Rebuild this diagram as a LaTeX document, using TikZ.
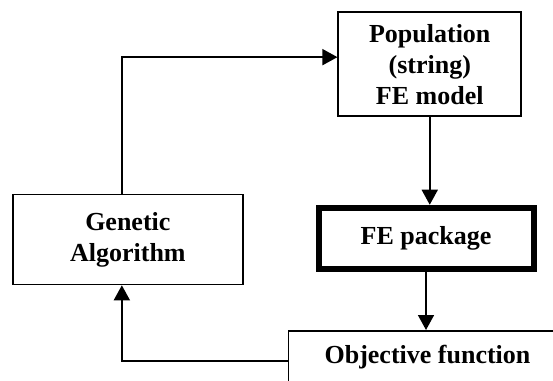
\documentclass[tikz,border=0pt]{standalone}
\usepackage{fontspec}
\setmainfont{Liberation Serif}
\usetikzlibrary{arrows.meta}
\tikzset{
    block/.style={
        draw,line width=1.6pt,
        align=center,
        font=\bfseries\fontsize{26}{31}\selectfont
    },
    >={Triangle[width=16pt,length=15pt]},
    arrow/.style={line width=1.6pt,->},
}

\begin{document}
\begin{tikzpicture}[x=1pt,y=1pt]
		\useasboundingbox (0,0) rectangle (553,380);
		\clip (0,0) rectangle (553,380);
		\node[block,minimum width=183pt,minimum height=104pt] (pop) at (429.75,315.85) {Population\\(string)\\FE model};
		\node[block,minimum width=230pt,minimum height=90pt] (ga) at (127.85,140.5) {Genetic\\Algorithm};
		\node[block,line width=6pt,minimum width=215pt,minimum height=61.5pt] (fe) at (426,141.5) {FE package};
		\node[block,anchor=north,minimum width=278pt,inner sep=8pt,text height=25pt,text depth=40pt] (obj) at (427.5,50) {Objective function};

		\draw[arrow] (pop.south) -- (pop.south |- fe.north);
		\draw[arrow] (fe.south) -- (fe.south |- obj.north);
		\draw[arrow] ([yshift=-31pt]obj.north west) -| ([xshift=-6pt]ga.south);
		\draw[arrow] ([xshift=-6pt]ga.north) |- ([yshift=7pt]pop.west);
	\end{tikzpicture}
\end{document}
